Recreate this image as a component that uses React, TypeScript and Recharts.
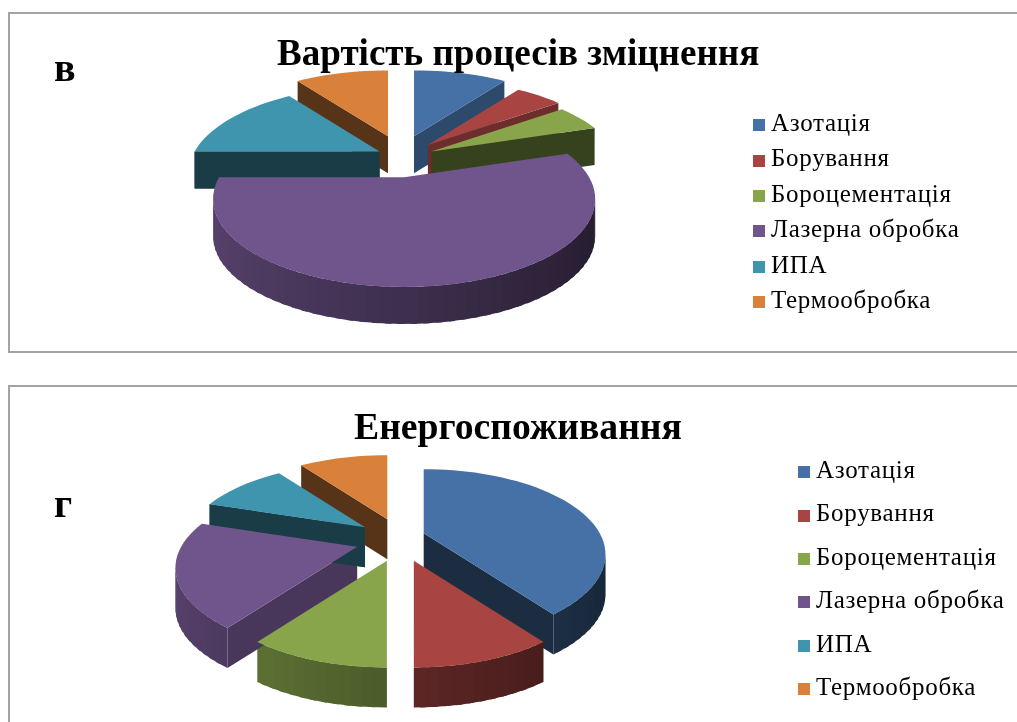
import { Legend, Pie, PieChart } from "recharts";

// --- Data ---
const CATEGORIES = [
  "Азотація",
  "Борування",
  "Бороцементація",
  "Лазерна обробка",
  "ИПА",
  "Термообробка",
];
const COST_VALUES = [10, 5, 5, 55, 15, 10];
const ENERGY_VALUES = [40, 10, 10, 20, 10, 10];
const COLORS = ["#4571a6", "#a84543", "#88a54c", "#70558c", "#4095ae", "#d9813b"];

// --- Projection settings ---
const PERSPECTIVE = 0.25;
const FONT = "'Liberation Serif', 'Times New Roman', serif";
const IPA_INDEX = CATEGORIES.indexOf("ИПА");

const shade = (hex: string, f: number) => {
  const n = parseInt(hex.slice(1), 16);
  const c = [(n >> 16) & 255, (n >> 8) & 255, n & 255].map((v) => Math.round(v * f));
  return `rgb(${c.join(",")})`;
};

const toTable = (values: number[]) =>
  CATEGORIES.map((name, i) => ({ name, value: values[i], fill: COLORS[i] }));

interface Look {
  squash: number;
  pullX: number[]; // how far each slice is pulled out sideways
  pullY: number;
  pullPower: number;
  depth: number;
}

// Flat pie sector -> tilted slab. Angles come from the Pie itself.
const makeShape = (look: Look, layer: "walls" | "ipaWall" | "tops") => (props: any) => {
  const { cx, cy, outerRadius: R, startAngle, endAngle, fill, index } = props;
  if (layer === "ipaWall" && index !== IPA_INDEX) return <g />;
  const a0 = 90 - startAngle; // clockwise from 12 o'clock
  const a1 = 90 - endAngle;
  const mid = ((a0 + a1) / 2) * (Math.PI / 180);
  const up = Math.cos(mid);
  const ox = cx + look.pullX[index] * Math.sin(mid);
  const oy = cy - look.pullY * Math.sign(up) * Math.abs(up) ** look.pullPower * look.squash;

  const rim = (deg: number, z: number) => {
    const t = (deg * Math.PI) / 180;
    const v = -Math.cos(t);
    const s = 1 / (1 - PERSPECTIVE * v);
    return [ox + R * Math.sin(t) * s, oy + R * v * look.squash * s + z];
  };
  const steps = Math.max(4, Math.ceil((a1 - a0) / 3));
  const arc = Array.from({ length: steps + 1 }, (_, i) => a0 + ((a1 - a0) * i) / steps);
  const path = (pts: number[][]) =>
    "M" + pts.map((p) => `${p[0].toFixed(1)} ${p[1].toFixed(1)}`).join("L") + "Z";

  if (layer === "tops") {
    return <path d={path([[ox, oy], ...arc.map((d) => rim(d, 0))])} fill={fill} />;
  }

  const d = look.depth;
  const facesViewer = (deg: number) => -Math.cos((deg * Math.PI) / 180) > 0.01;
  const sideFactor = (deg: number) => (Math.sin((deg * Math.PI) / 180) > 0.5 ? 0.65 : 0.4);
  // outer wall only shows past the silhouette of the tilted ellipse
  const onFront = (deg: number) => -Math.cos((deg * Math.PI) / 180) > PERSPECTIVE;
  return (
    <g>
      {facesViewer(a0 - 90) && (
        <path d={path([[ox, oy], rim(a0, 0), rim(a0, d), [ox, oy + d]])} fill={shade(fill, sideFactor(a0 - 90))} />
      )}
      {facesViewer(a1 + 90) && (
        <path d={path([[ox, oy], rim(a1, 0), rim(a1, d), [ox, oy + d]])} fill={shade(fill, sideFactor(a1 + 90))} />
      )}
      {arc.slice(0, -1).map((deg, i) => {
        const next = Math.min(arc[i + 1] + 1.5, a1); // overlap so no seams show
        if (!onFront((deg + next) / 2)) return null;
        const c = shade(fill, 0.55 - 0.22 * Math.sin((((deg + next) / 2) * Math.PI) / 180));
        return <path key={i} d={path([rim(deg, 0), rim(next, 0), rim(next, d), rim(deg, d)])} fill={c} />;
      })}
    </g>
  );
};

interface PanelProps {
  top: number;
  height: number;
  values: number[];
  cx: number;
  cy: number;
  radius: number;
  look: Look;
  title: string;
  titleSize: number;
  titleLeft: number;
  titleTop: number;
  letter: string;
  letterTop: number;
  legendLeft: number;
  legendTop: number;
  legendRow: number;
}

function Panel(p: PanelProps) {
  const data = toTable(p.values);
  const pieProps = {
    data,
    dataKey: "value",
    nameKey: "name",
    cx: p.cx,
    cy: p.cy,
    outerRadius: p.radius,
    startAngle: 90,
    endAngle: -270,
    stroke: "none",
    isAnimationActive: false,
  };
  return (
    <div
      style={{
        position: "absolute",
        left: 8,
        top: p.top,
        width: 1040,
        height: p.height,
        border: "2px solid #a3a3a3",
        boxSizing: "border-box",
      }}
    >
      <div style={{ position: "absolute", left: -8, top: -p.top }}>
        <div style={{ position: "absolute", left: 0, top: p.top }}>
          <PieChart width={1017} height={p.height} margin={{ top: 0, right: 0, bottom: 0, left: 0 }}>
            {/* walls first, the tops paint over them; ИПА's wall sits in front of its neighbour's */}
            <Pie {...pieProps} legendType="none" shape={makeShape(p.look, "walls")} />
            <Pie {...pieProps} legendType="none" shape={makeShape(p.look, "ipaWall")} />
            <Pie {...pieProps} shape={makeShape(p.look, "tops")} />
            <Legend
              layout="vertical"
              align="right"
              verticalAlign="middle"
              iconType="square"
              iconSize={12}
              itemSorter={null}
              formatter={(value: string) => (
                <span style={{ color: "#000", marginLeft: 2 }}>{value}</span>
              )}
              wrapperStyle={{
                left: p.legendLeft,
                top: p.legendTop,
                right: "auto",
                bottom: "auto",
                width: 270,
                fontFamily: FONT,
                fontSize: 25,
                letterSpacing: 0.7,
                lineHeight: `${p.legendRow}px`,
              }}
            />
          </PieChart>
        </div>
      </div>
      <div
        style={{
          position: "absolute",
          left: p.titleLeft - 10,
          top: p.titleTop - p.top - 2,
          fontFamily: FONT,
          fontWeight: "bold",
          fontSize: p.titleSize,
          lineHeight: "40px",
          whiteSpace: "nowrap",
          color: "#000",
        }}
      >
        {p.title}
      </div>
      <div
        style={{
          position: "absolute",
          left: 44,
          top: p.letterTop - p.top - 2,
          fontFamily: FONT,
          fontWeight: "bold",
          fontSize: 40,
          lineHeight: "40px",
          color: "#000",
        }}
      >
        {p.letter}
      </div>
    </div>
  );
}

export default function App() {
  return (
    <div
      style={{
        position: "fixed",
        left: 0,
        top: 0,
        width: 1017,
        height: 722,
        overflow: "hidden",
        background: "#fff",
        filter: "blur(0.4px)",
      }}
    >
      <Panel
        top={12}
        height={341}
        values={COST_VALUES}
        cx={399}
        cy={142}
        radius={185}
        look={{ squash: 0.445, pullX: [42, 38, 34, 20, 24, 42], pullY: 49, pullPower: 2, depth: 37 }}
        title="Вартість процесів зміцнення"
        titleSize={37.1}
        titleLeft={277}
        titleTop={33}
        letter="в"
        letterTop={48}
        legendLeft={751}
        legendTop={91}
        legendRow={35.4}
      />
      <Panel
        top={385}
        height={380}
        values={ENERGY_VALUES}
        cx={397}
        cy={153}
        radius={176}
        look={{ squash: 0.455, pullX: [26, 48, 39, 44, 42, 38], pullY: 48, pullPower: 1, depth: 40 }}
        title="Енергоспоживання"
        titleSize={37.7}
        titleLeft={354}
        titleTop={406}
        letter="г"
        letterTop={484}
        legendLeft={796}
        legendTop={61}
        legendRow={43.4}
      />
    </div>
  );
}
